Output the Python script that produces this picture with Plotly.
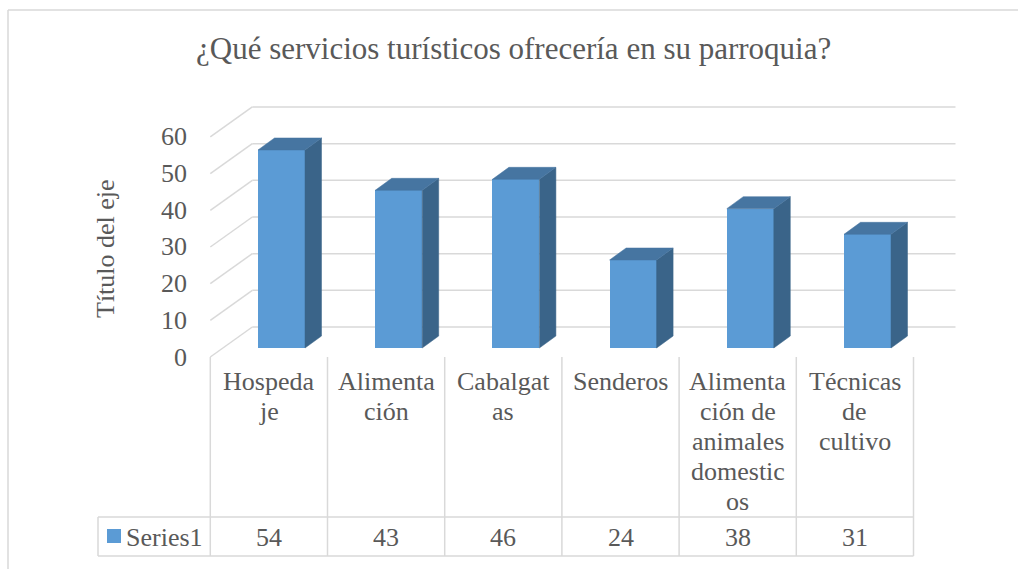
import plotly.graph_objects as go

# ---------------- data ----------------
categories = ["Hospedaje", "Alimentación", "Cabalgatas", "Senderos",
              "Alimentación de animales domesticos", "Técnicas de cultivo"]
# category labels as wrapped in the data table of the original chart
category_lines = [["Hospeda", "je"],
                  ["Alimenta", "ción"],
                  ["Cabalgat", "as"],
                  ["Senderos"],
                  ["Alimenta", "ción de", "animales", "domestic", "os"],
                  ["Técnicas", "de", "cultivo"]]
values = [54, 43, 46, 24, 38, 31]
series_name = "Series1"
y_ticks = [0, 10, 20, 30, 40, 50, 60]
title_text = "¿Qué servicios turísticos ofrecería en su parroquia?"
axis_title = "Título del eje"

# ---------------- geometry (pixels -> axis units) ----------------
W, H = 1018, 569
X0, XS = 281.5, 117.2      # px of category 0 centre (bar plane), px per category
Y0, YS = 348.0, 3.667      # py of value 0 (bar plane), px per unit

def dx(px):
    return px / XS

def dy(px):
    return px / YS

def x_of(px):
    return (px - X0) / XS

def y_of(py):
    return (Y0 - py) / YS

xrange_ = [x_of(0), x_of(W)]
yrange_ = [y_of(H), y_of(0)]

BAR_W = dx(47)
BAR_DX, BAR_DY = dx(16.5), dy(12)
BACK_DX, BACK_DY = dx(29.4), dy(21)
FRONT_DX, FRONT_DY = dx(-12.6), dy(-9)
LEFT, RIGHT = -0.5, len(categories) - 0.5

TXT = "#595959"
GRID = "#D9D9D9"
FRONT_C = "#5B9BD5"
TOP_C = "#4675A1"
SIDE_C = "#3A6489"
FONT = "Liberation Serif, Times New Roman, serif"

fig = go.Figure()
shapes = []

# back wall gridlines and side wall diagonals
for t in y_ticks:
    shapes.append(dict(type="line", xref="x", yref="y", layer="below",
                       x0=LEFT + BACK_DX, x1=RIGHT + BACK_DX,
                       y0=t + BACK_DY, y1=t + BACK_DY,
                       line=dict(color=GRID, width=1.5)))
    shapes.append(dict(type="line", xref="x", yref="y", layer="below",
                       x0=LEFT + FRONT_DX, x1=LEFT + BACK_DX,
                       y0=t + FRONT_DY, y1=t + BACK_DY,
                       line=dict(color=GRID, width=1.5)))

# bars: front faces
xs = list(range(len(categories)))
fig.add_trace(go.Bar(x=xs, y=values, width=BAR_W, marker=dict(color=FRONT_C, line=dict(width=0)),
                     hoverinfo="skip", showlegend=False))

# side and top faces
for i, v in zip(xs, values):
    r = i + BAR_W / 2
    l = i - BAR_W / 2
    fig.add_trace(go.Scatter(
        x=[r, r + BAR_DX, r + BAR_DX, r, r],
        y=[0, BAR_DY, v + BAR_DY, v, 0],
        fill="toself", fillcolor=SIDE_C, mode="lines",
        line=dict(color=SIDE_C, width=0.5), hoverinfo="skip", showlegend=False))
    fig.add_trace(go.Scatter(
        x=[l, l + BAR_DX, r + BAR_DX, r, l],
        y=[v, v + BAR_DY, v + BAR_DY, v, v],
        fill="toself", fillcolor=TOP_C, mode="lines",
        line=dict(color=TOP_C, width=0.5), hoverinfo="skip", showlegend=False))

# ---------------- data table ----------------
row_top = y_of(357)
row_mid = y_of(517)
row_bot = y_of(556)
table_left = x_of(98)
col_edges = [LEFT + FRONT_DX + k for k in range(len(categories) + 1)]

for xe in col_edges:
    shapes.append(dict(type="line", xref="x", yref="y", layer="below",
                       x0=xe, x1=xe, y0=row_top, y1=row_bot,
                       line=dict(color=GRID, width=1.5)))
for yy in (row_mid, row_bot):
    shapes.append(dict(type="line", xref="x", yref="y", layer="below",
                       x0=table_left, x1=col_edges[-1], y0=yy, y1=yy,
                       line=dict(color=GRID, width=1.5)))
shapes.append(dict(type="line", xref="x", yref="y", layer="below",
                   x0=table_left, x1=table_left, y0=row_mid, y1=row_bot,
                   line=dict(color=GRID, width=1.5)))

annotations = []
for i, lines in enumerate(category_lines):
    cx = i + FRONT_DX
    for k, s in enumerate(lines):
        annotations.append(dict(x=cx, y=y_of(381 + 30 * k), xref="x", yref="y",
                                text=s, showarrow=False, xanchor="center", yanchor="middle",
                                font=dict(family=FONT, size=26, color=TXT)))
for i, v in enumerate(values):
    annotations.append(dict(x=i + FRONT_DX, y=y_of(537), xref="x", yref="y",
                            text=str(v), showarrow=False, xanchor="center", yanchor="middle",
                            font=dict(family=FONT, size=26, color=TXT)))

# legend key in table
fig.add_trace(go.Scatter(x=[x_of(114)], y=[y_of(536)], mode="markers",
                         marker=dict(symbol="square", size=14, color=FRONT_C, line=dict(width=0)),
                         hoverinfo="skip", showlegend=False))
annotations.append(dict(x=x_of(124), y=y_of(537), xref="x", yref="y", text=series_name,
                        showarrow=False, xanchor="left", yanchor="middle",
                        font=dict(family=FONT, size=26, color=TXT)))

# value axis tick labels (front plane)
for t in y_ticks:
    annotations.append(dict(x=x_of(189), y=t + FRONT_DY, xref="x", yref="y", text=str(t),
                            showarrow=False, xanchor="right", yanchor="middle",
                            font=dict(family=FONT, size=26, color=TXT)))

# axis title
annotations.append(dict(x=x_of(105), y=y_of(249), xref="x", yref="y", text=axis_title,
                        textangle=-90, showarrow=False, xanchor="center", yanchor="middle",
                        font=dict(family=FONT, size=26, color=TXT)))
# chart title
annotations.append(dict(x=513 / W, y=1 - 48 / H, xref="paper", yref="paper", text=title_text,
                        showarrow=False, xanchor="center", yanchor="middle",
                        font=dict(family=FONT, size=31, color=TXT)))

# chart area border (left and top visible)
shapes.append(dict(type="line", xref="paper", yref="paper", x0=8 / W, x1=8 / W,
                   y0=1 - 10 / H, y1=0, line=dict(color=GRID, width=1.5)))
shapes.append(dict(type="line", xref="paper", yref="paper", x0=8 / W, x1=1,
                   y0=1 - 10 / H, y1=1 - 10 / H, line=dict(color=GRID, width=1.5)))

fig.update_layout(
    width=W, height=H,
    margin=dict(l=0, r=0, t=0, b=0),
    paper_bgcolor="white", plot_bgcolor="white",
    xaxis=dict(range=xrange_, visible=False, fixedrange=True),
    yaxis=dict(range=yrange_, visible=False, fixedrange=True),
    shapes=shapes, annotations=annotations,
    showlegend=False, bargap=0,
)

fig.write_html("out.html", config={"displayModeBar": False},
               post_script="document.body.style.margin='0';document.body.style.overflow='hidden';")
